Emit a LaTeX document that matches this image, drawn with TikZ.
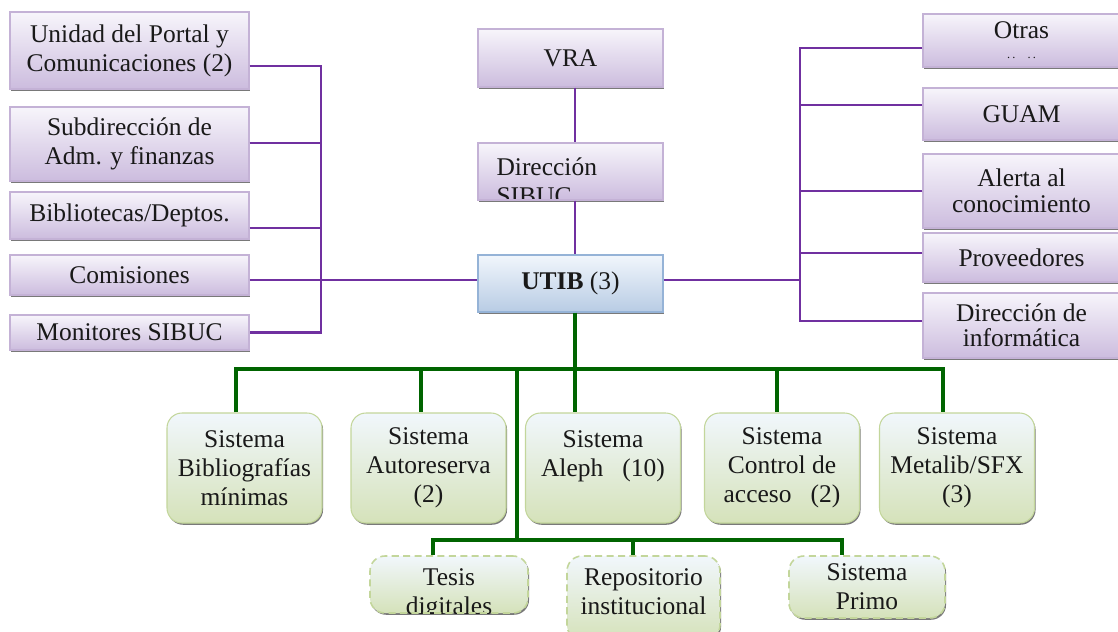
\documentclass[tikz,border=0pt]{standalone}
\usepackage{fontspec}
\setmainfont{Liberation Serif}
\usetikzlibrary{shadows}

\definecolor{lilalinea}{RGB}{112,48,160}
\definecolor{verdelinea}{RGB}{0,100,0}
\definecolor{lilatop}{RGB}{247,245,251}
\definecolor{lilabot}{RGB}{204,188,222}
\definecolor{lilaedge}{RGB}{196,178,214}
\definecolor{azultop}{RGB}{241,246,252}
\definecolor{azulbot}{RGB}{184,204,228}
\definecolor{azuledge}{RGB}{149,179,215}
\definecolor{verdetop}{RGB}{241,247,252}
\definecolor{verdebot}{RGB}{213,226,186}
\definecolor{verdeedge}{RGB}{195,214,155}

\newcommand\boxfont{\fontsize{14.5}{16.5}\selectfont}

\tikzset{
  sombra/.style={drop shadow={shadow xshift=0.6pt,shadow yshift=-1pt,opacity=.7,fill=black!75}},
  lila/.style={draw=lilaedge,line width=.6pt,top color=lilatop,bottom color=lilabot,
    sombra,align=center,font=\boxfont,text=black!90,inner sep=2pt},
  izq/.style={lila,minimum width=4.78cm},
  centro/.style={lila,minimum width=3.7cm},
  der/.style={lila,minimum width=3.94cm,font=\fontsize{14.5}{14.5}\selectfont},
  azul/.style={lila,draw=azuledge,top color=azultop,bottom color=azulbot,minimum width=3.7cm},
  sistema/.style={draw=verdeedge,line width=.6pt,top color=verdetop,bottom color=verdebot,
    rounded corners=0.3cm,sombra,align=center,font=\boxfont,text=black!90,
    minimum width=3.1cm,minimum height=2.2cm,inner sep=2pt},
  futuro/.style={sistema,line width=.9pt,dash pattern=on 4pt off 2.5pt},
  recortado/.style={font=\boxfont,text=black!90,minimum width=0pt,minimum height=0pt,inner sep=0pt},
  lilalin/.style={draw=lilalinea,line width=1.7pt},
  verdelin/.style={draw=verdelinea,line width=1.8pt}
}

\begin{document}
\begin{tikzpicture}
\useasboundingbox (0,0) rectangle (22.36,-12.64);

% unidades de la izquierda
\node[izq,minimum height=1.54cm] (unidad) at (2.59,-1.01) {Unidad del Portal y\\Comunicaciones (2)};
\node[izq,minimum height=1.48cm] (subdir) at (2.59,-2.88) {Subdirección de\\Adm. y finanzas};
\node[izq,minimum height=0.94cm] (biblio) at (2.59,-4.31) {Bibliotecas/Deptos.};
\node[izq,minimum height=0.8cm] (comisiones) at (2.59,-5.5) {Comisiones};
\node[izq,minimum height=0.7cm] (monitores) at (2.59,-6.65) {Monitores SIBUC};

% linea central
\node[centro,minimum height=1.16cm] (vra) at (11.41,-1.16) {VRA};
\node[centro,minimum height=1.14cm,path picture={
    \node[recortado,align=left,anchor=west]
      at ([xshift=0.36cm,yshift=-0.2cm]path picture bounding box.west) {Dirección\\SIBUC};}]
  (dirsibuc) at (11.41,-3.43) {};
\node[azul,minimum height=1.14cm] (utib) at (11.41,-5.67) {\textbf{UTIB} (3)};

% unidades de la derecha
\node[der,minimum height=1.06cm] (otras) at (20.43,-0.81) {Otras\\[-3pt]{\scriptsize .\,.\quad.\,.}};
\node[der,minimum height=1.04cm] (guam) at (20.43,-2.28) {GUAM};
\node[der,minimum height=1.48cm] (alerta) at (20.43,-3.82) {Alerta al\\conocimiento};
\node[der,minimum height=0.98cm] (prov) at (20.43,-5.15) {Proveedores};
\node[der,minimum height=1.3cm] (dirinfo) at (20.43,-6.51) {Dirección de\\informática};

% sistemas
\node[sistema] (biblios) at (4.89,-9.36) {Sistema\\Bibliografías\\mínimas};
\node[sistema] (autores) at (8.57,-9.36) {Sistema\\Autoreserva\\(2)};
\node[sistema] (aleph) at (12.06,-9.36) {Sistema\\Aleph~~~(10)\\\mbox{}};
\node[sistema] (control) at (15.64,-9.36) {Sistema\\Control de\\acceso~~~(2)};
\node[sistema] (metalib) at (19.14,-9.36) {Sistema\\Metalib/SFX\\(3)};

% proyectos (borde punteado)
\node[futuro,minimum width=3.16cm,minimum height=1.14cm,path picture={
    \node[recortado,align=center]
      at ([yshift=-0.2cm]path picture bounding box.center) {Tesis\\digitales};}]
  (tesis) at (8.98,-11.69) {};
\node[futuro,minimum width=3.06cm,minimum height=1.68cm,path picture={
    \node[recortado,align=center]
      at ([yshift=0.13cm]path picture bounding box.center) {Repositorio\\institucional};}]
  (repo) at (12.87,-11.96) {};
\node[futuro,minimum width=3.12cm,minimum height=1.24cm] (primo) at (17.34,-11.74) {Sistema\\Primo};

% puntos de las lineas
\coordinate (lbus) at (6.42,0);
\coordinate (rbus) at (16.0,0);
\coordinate (spine) at (11.5,0);
\coordinate (rama) at (10.34,0);
\coordinate (busL) at (4.72,-7.38);
\coordinate (busR) at (18.86,-7.38);
\coordinate (bus2L) at (8.66,-10.8);
\coordinate (bus2R) at (16.84,-10.8);

\begin{scope}[lilalin]
  \draw (unidad.east |- 0,-1.32) -| (lbus |- monitores) -- (monitores.east);
  \foreach \n/\y in {subdir/-2.86, biblio/-4.56}
    \draw (\n.east |- 0,\y) -- (lbus |- 0,\y);
  \draw (comisiones.east |- 0,-5.6) -- (utib.west |- 0,-5.6);
  \draw (vra.south -| spine) -- (dirsibuc.north -| spine);
  \draw (dirsibuc.south -| spine) -- (utib.north -| spine);
  \draw (utib.east |- 0,-5.6) -- (rbus |- 0,-5.6);
  \draw (otras.west |- 0,-0.96) -| (rbus |- 0,-6.42) -- (dirinfo.west |- 0,-6.42);
  \foreach \n/\y in {guam/-2.1, alerta/-3.82, prov/-5.06}
    \draw (\n.west |- 0,\y) -- (rbus |- 0,\y);
\end{scope}

\begin{scope}[verdelin]
  \draw (utib.south -| spine) -- (spine |- busL);
  \draw (biblios.north -| busL) -- (busL) -- (busR) -- (metalib.north -| busR);
  \foreach \n/\x in {autores/8.42, aleph/11.5, control/15.54}
    \draw (busL -| \x,0) -- (\n.north -| \x,0);
  \draw (rama |- busL) -- (rama |- bus2L);
  \draw (tesis.north -| bus2L) -- (bus2L) -- (bus2R) -- (primo.north -| bus2R);
  \draw (bus2L -| 12.66,0) -- (repo.north -| 12.66,0);
\end{scope}
\end{tikzpicture}
\end{document}
